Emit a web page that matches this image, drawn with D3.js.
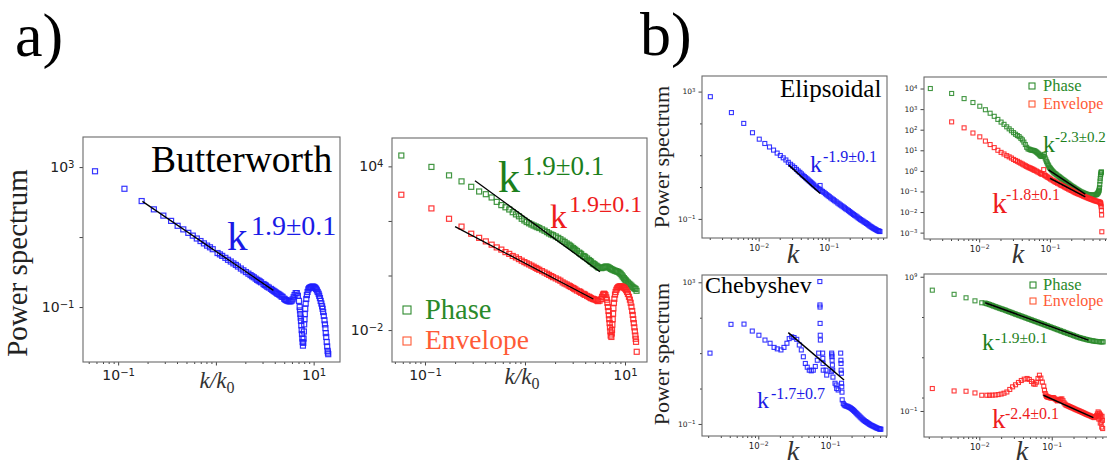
<!DOCTYPE html>
<html>
<head>
<meta charset="utf-8">
<script src="https://d3js.org/d3.v7.min.js"></script>
<style>
  body { margin: 0; background: #fff; }
  svg { display: block; }
  .serif { font-family: "Liberation Serif", "DejaVu Serif", serif; }
</style>
</head>
<body>
<div id="chart"></div>
<script>
// ---------- data: [k, power] ----------
// a) Butterworth, k/k0
const bwBlue = [[0.058,760],[0.116,240],[0.174,107],[0.232,62],[0.29,41],[0.348,29],[0.406,21],[0.464,16.6],[0.522,13.2],[0.58,11],[0.638,9.1],[0.696,7.7],[0.754,6.6],[0.812,5.7],[0.87,5.1],[0.928,4.5],[1.04,3.5],[1.1,3.2],[1.16,2.9],[1.25,2.55],[1.33,2.24],[1.42,2.0],[1.51,1.77],[1.6,1.6],[1.68,1.44],[1.8,1.26],[1.91,1.12],[2.03,1.0],[2.15,0.9],[2.26,0.82],[2.35,0.76],[2.44,0.71],[2.55,0.65],[2.64,0.6],[2.73,0.57],[2.81,0.54],[2.9,0.51],[3.07,0.456],[3.16,0.43],[3.25,0.41],[3.36,0.38],[3.48,0.36],[3.65,0.33],[3.77,0.31],[3.89,0.29],[4.0,0.275],[4.12,0.26],[4.23,0.245],[4.35,0.237],[4.46,0.225],[4.58,0.214],[4.7,0.2],[4.81,0.195],[4.99,0.174],[5.1,0.165],[5.22,0.158],[5.37,0.152],[5.51,0.148],[5.65,0.146],[5.8,0.145],[5.95,0.152],[6.09,0.166],[6.24,0.19],[6.38,0.22],[6.55,0.25],[6.73,0.25],[6.9,0.21],[7.08,0.15],[7.19,0.1],[7.25,0.08],[7.31,0.063],[7.37,0.05],[7.42,0.04],[7.48,0.03],[7.54,0.022],[7.6,0.017],[7.66,0.0126],[7.72,0.01],[7.77,0.0079],[7.83,0.0095],[7.89,0.0126],[7.95,0.02],[8.0,0.032],[8.06,0.045],[8.12,0.063],[8.2,0.09],[8.29,0.126],[8.41,0.17],[8.53,0.22],[8.67,0.27],[8.82,0.32],[8.99,0.345],[9.16,0.36],[9.37,0.37],[9.57,0.38],[9.78,0.385],[9.98,0.38],[10.2,0.37],[10.4,0.35],[10.6,0.33],[10.8,0.3],[11.0,0.27],[11.25,0.24],[11.4,0.21],[11.6,0.18],[11.8,0.15],[12.0,0.126],[12.2,0.105],[12.35,0.089],[12.5,0.072],[12.7,0.056],[12.9,0.042],[13.05,0.032],[13.2,0.025],[13.3,0.018],[13.45,0.014],[13.6,0.01],[13.75,0.0075],[13.9,0.0056],[14.0,0.005],[14.1,0.0045]];
const bwFit = [[0.177,105],[3.87,0.30]];

// a) Phase / Envelope, k/k0
const a2Phase = [[0.058,25000],[0.116,9550],[0.174,4680],[0.232,2820],[0.29,1780],[0.348,1200],[0.406,955],[0.464,724],[0.522,500],[0.58,380],[0.638,316],[0.696,263],[0.754,209],[0.812,174],[0.87,148],[0.928,120],[0.986,104],[1.04,91],[1.1,82],[1.16,74],[1.22,68],[1.28,63],[1.33,59],[1.39,55],[1.48,49],[1.57,44],[1.66,39],[1.74,35],[1.83,32],[1.91,30],[2.03,27],[2.15,24],[2.26,21.4],[2.38,19],[2.49,17],[2.61,15],[2.73,13.5],[2.81,12.4],[2.9,11.5],[3.02,10.2],[3.1,9.4],[3.19,8.7],[3.31,7.9],[3.48,6.9],[3.57,6.4],[3.65,6.0],[3.83,5.2],[3.92,5.0],[4.0,4.7],[4.18,4.2],[4.35,3.7],[4.47,3.4],[4.58,3.2],[4.76,2.8],[4.87,2.65],[4.99,2.5],[5.16,2.3],[5.28,2.15],[5.39,2.0],[5.57,1.9],[5.8,1.86],[5.97,1.92],[6.15,2.0],[6.32,2.08],[6.5,2.14],[6.67,2.08],[6.84,2.0],[7.05,1.86],[7.25,1.74],[7.45,1.66],[7.66,1.58],[7.9,1.5],[8.12,1.45],[8.35,1.4],[8.58,1.35],[8.82,1.25],[9.05,1.15],[9.28,1.02],[9.51,0.91],[9.75,0.8],[9.98,0.72],[10.2,0.66],[10.4,0.6],[10.7,0.55],[11.0,0.5],[11.3,0.46],[11.6,0.42],[11.9,0.38],[12.2,0.355],[12.5,0.335],[12.76,0.32],[13.05,0.275]];
const a2Env = [[0.058,912],[0.116,288],[0.174,120],[0.232,62],[0.29,34],[0.348,24],[0.406,17.8],[0.464,13.5],[0.522,10.7],[0.58,8.9],[0.638,7.2],[0.696,6.2],[0.754,5.2],[0.812,4.6],[0.87,4.0],[0.928,3.5],[0.986,3.1],[1.04,2.8],[1.1,2.55],[1.16,2.3],[1.22,2.1],[1.28,1.9],[1.33,1.76],[1.39,1.62],[1.48,1.45],[1.57,1.29],[1.66,1.16],[1.74,1.05],[1.83,0.95],[1.91,0.87],[2.03,0.785],[2.15,0.71],[2.26,0.645],[2.38,0.56],[2.49,0.51],[2.61,0.47],[2.73,0.43],[2.81,0.405],[2.9,0.38],[3.02,0.35],[3.1,0.33],[3.19,0.31],[3.31,0.28],[3.48,0.263],[3.57,0.25],[3.65,0.232],[3.83,0.214],[3.92,0.205],[4.0,0.195],[4.18,0.178],[4.35,0.166],[4.47,0.157],[4.58,0.148],[4.76,0.14],[4.87,0.136],[4.99,0.132],[5.16,0.126],[5.28,0.12],[5.39,0.115],[5.57,0.12],[5.8,0.138],[5.9,0.165],[6.03,0.2],[6.15,0.215],[6.26,0.21],[6.38,0.19],[6.5,0.158],[6.58,0.13],[6.67,0.1],[6.75,0.07],[6.84,0.05],[6.9,0.035],[6.96,0.025],[7.02,0.018],[7.08,0.0126],[7.14,0.009],[7.19,0.0063],[7.31,0.0056],[7.37,0.0075],[7.42,0.01],[7.48,0.016],[7.54,0.025],[7.6,0.04],[7.66,0.063],[7.75,0.1],[7.83,0.14],[7.95,0.2],[8.06,0.25],[8.2,0.3],[8.35,0.34],[8.52,0.37],[8.7,0.39],[8.9,0.4],[9.11,0.4],[9.34,0.39],[9.57,0.38],[9.8,0.355],[10.0,0.33],[10.25,0.29],[10.5,0.25],[10.7,0.21],[10.96,0.166],[11.2,0.13],[11.4,0.1],[11.6,0.072],[11.8,0.05],[11.95,0.036],[12.1,0.025],[12.25,0.018],[12.4,0.0126],[12.55,0.009],[12.7,0.0063],[12.8,0.0048],[12.9,0.0037],[13.1,0.0016]];
const a2PhaseFit = [[0.316,2950],[5.62,1.38]];
const a2EnvFit = [[0.2,62],[4.82,0.138]];

// b) Elipsoidal
const b1Blue = [[0.00204,692],[0.00408,219],[0.00612,100],[0.00816,51],[0.0102,32],[0.01224,23.4],[0.01428,18.2],[0.01632,14.5],[0.01836,11.7],[0.0204,9.8],[0.02244,8.3],[0.02448,7.1],[0.02652,6.0],[0.02856,5.2],[0.0306,4.6],[0.03264,4.1],[0.0347,3.6],[0.0367,3.2],[0.0388,2.9],[0.0408,2.6],[0.0428,2.35],[0.0449,2.14],[0.0469,1.97],[0.049,1.82],[0.051,1.68],[0.053,1.55],[0.0551,1.45],[0.0571,1.35],[0.0592,1.26],[0.0612,1.17],[0.0643,1.07],[0.0673,0.98],[0.0704,0.91],[0.0734,0.85],[0.0755,1.12],[0.0775,0.79],[0.0816,0.73],[0.0857,0.68],[0.0898,0.62],[0.0938,0.575],[0.098,0.535],[0.102,0.5],[0.107,0.46],[0.112,0.427],[0.117,0.4],[0.122,0.372],[0.128,0.345],[0.135,0.316],[0.141,0.295],[0.147,0.275],[0.154,0.257],[0.161,0.24],[0.168,0.224],[0.175,0.209],[0.183,0.195],[0.192,0.182],[0.2,0.17],[0.208,0.158],[0.217,0.148],[0.226,0.138],[0.235,0.13],[0.245,0.123],[0.255,0.115],[0.265,0.107],[0.276,0.101],[0.286,0.095],[0.298,0.09],[0.31,0.085],[0.322,0.08],[0.335,0.076],[0.348,0.072],[0.361,0.068],[0.374,0.064],[0.388,0.06],[0.403,0.057],[0.418,0.054],[0.433,0.051],[0.449,0.049],[0.465,0.047],[0.481,0.045],[0.497,0.043],[0.514,0.042],[0.528,0.041],[0.541,0.04]];
const b1Fit = [[0.0269,4.9],[0.0759,0.63]];

// b) Phase / Envelope (top)
const b2Phase = [[0.00204,10000],[0.00408,5750],[0.00612,3240],[0.00816,2090],[0.0102,1380],[0.01224,933],[0.01428,631],[0.01632,447],[0.01836,316],[0.0204,234],[0.02244,182],[0.02448,138],[0.02652,110],[0.02856,89],[0.0306,72],[0.03264,60],[0.0347,52],[0.0367,46],[0.0388,38],[0.0408,32],[0.0428,25],[0.0449,19],[0.0469,14],[0.049,11.7],[0.051,11.2],[0.053,10.5],[0.0551,10.2],[0.0571,10],[0.0592,9.7],[0.0612,9.3],[0.0633,8.6],[0.0653,7.9],[0.0673,7.2],[0.0694,6.6],[0.0714,6.0],[0.0734,5.4],[0.0755,5.2],[0.0775,5.0],[0.0796,5.1],[0.0816,5.2],[0.0836,6.3],[0.0857,4.2],[0.0877,3.4],[0.0898,2.8],[0.0918,2.4],[0.0938,2.0],[0.0958,1.75],[0.0979,1.5],[0.1,1.38],[0.102,1.26],[0.105,1.12],[0.108,1.0],[0.111,0.9],[0.114,0.81],[0.118,0.74],[0.122,0.68],[0.126,0.62],[0.131,0.56],[0.135,0.52],[0.139,0.48],[0.143,0.44],[0.147,0.41],[0.152,0.38],[0.157,0.35],[0.162,0.325],[0.167,0.3],[0.173,0.275],[0.18,0.25],[0.186,0.23],[0.192,0.21],[0.198,0.195],[0.204,0.18],[0.211,0.168],[0.218,0.158],[0.225,0.146],[0.233,0.135],[0.241,0.126],[0.249,0.117],[0.257,0.11],[0.265,0.102],[0.275,0.096],[0.284,0.091],[0.293,0.087],[0.302,0.083],[0.312,0.079],[0.322,0.076],[0.332,0.073],[0.343,0.071],[0.355,0.069],[0.367,0.068],[0.38,0.067],[0.392,0.066],[0.405,0.066],[0.418,0.066],[0.432,0.067],[0.445,0.069],[0.455,0.072],[0.465,0.076],[0.473,0.082],[0.481,0.089],[0.488,0.1],[0.494,0.112],[0.498,0.13],[0.502,0.158],[0.506,0.22],[0.51,0.316],[0.514,0.42],[0.518,0.56],[0.522,0.68],[0.526,0.79],[0.53,0.85],[0.534,0.89]];
const b2Env = [[0.00408,240],[0.00612,123],[0.00816,69],[0.0102,45],[0.01224,28],[0.01428,19],[0.01632,13.5],[0.01836,10],[0.0204,7.9],[0.02244,6.6],[0.02448,5.5],[0.02652,4.8],[0.02856,4.2],[0.0306,3.6],[0.03264,3.2],[0.0347,2.9],[0.0367,2.6],[0.0388,2.35],[0.0408,2.14],[0.0428,1.95],[0.0449,1.78],[0.0469,1.64],[0.049,1.51],[0.051,1.42],[0.053,1.35],[0.0551,1.27],[0.0571,1.2],[0.0592,1.12],[0.0612,1.05],[0.0643,0.97],[0.0673,0.89],[0.0704,0.82],[0.0734,0.76],[0.0755,0.72],[0.0775,0.68],[0.0816,1.15],[0.0836,0.63],[0.0857,0.6],[0.0877,0.56],[0.0908,0.52],[0.0938,0.48],[0.098,0.44],[0.102,0.4],[0.107,0.36],[0.112,0.33],[0.117,0.3],[0.122,0.275],[0.128,0.25],[0.135,0.23],[0.141,0.21],[0.147,0.195],[0.154,0.18],[0.161,0.166],[0.168,0.153],[0.175,0.141],[0.183,0.13],[0.192,0.12],[0.2,0.112],[0.208,0.105],[0.217,0.097],[0.226,0.089],[0.235,0.084],[0.245,0.079],[0.255,0.075],[0.265,0.071],[0.276,0.067],[0.286,0.063],[0.298,0.059],[0.31,0.056],[0.322,0.053],[0.335,0.05],[0.348,0.047],[0.361,0.045],[0.374,0.043],[0.388,0.041],[0.403,0.039],[0.418,0.037],[0.433,0.0355],[0.449,0.034],[0.465,0.033],[0.481,0.032],[0.497,0.031],[0.51,0.0295],[0.518,0.028],[0.522,0.026],[0.526,0.022],[0.53,0.018],[0.534,0.012],[0.537,0.0072],[0.541,0.0011]];
const b2PhaseFit = [[0.0955,1.12],[0.316,0.074]];
const b2EnvFit = [[0.1,0.437],[0.316,0.055]];

// b) Chebyshev
const b3Blue = [[0.00212,10],[0.00416,65],[0.00632,66],[0.00824,42],[0.0102,32],[0.0124,23.4],[0.0146,19],[0.0166,14.5],[0.0184,13.2],[0.0207,12.3],[0.0228,14.5],[0.0251,19],[0.027,25.7],[0.0292,28.8],[0.0315,27.5],[0.0344,24.5],[0.0373,17],[0.0398,12.3],[0.0425,7.9],[0.0453,5.1],[0.0482,4.0],[0.0514,3.3],[0.0548,3.16],[0.0585,3.3],[0.0624,4.2],[0.0665,6.3],[0.0695,10],[0.0722,1050],[0.0724,229],[0.0726,200],[0.0728,69],[0.0731,32],[0.0734,23.4],[0.079,10],[0.0795,7.1],[0.08,5.1],[0.0805,3.3],[0.088,3.3],[0.09,2.4],[0.1045,3.0],[0.1055,10],[0.106,8.9],[0.1065,7.9],[0.107,6.3],[0.108,4.6],[0.109,3.3],[0.11,2.1],[0.1175,1.41],[0.122,1.26],[0.124,1.0],[0.13,0.91],[0.141,10],[0.142,6.3],[0.1425,5.1],[0.143,3.3],[0.144,2.7],[0.145,1.41],[0.146,1.12],[0.147,0.79],[0.148,0.48],[0.153,0.38],[0.157,0.35],[0.162,0.33],[0.168,0.32],[0.174,0.316],[0.18,0.305],[0.186,0.295],[0.193,0.283],[0.2,0.27],[0.207,0.255],[0.214,0.24],[0.221,0.225],[0.229,0.209],[0.237,0.195],[0.245,0.182],[0.254,0.17],[0.263,0.158],[0.272,0.148],[0.282,0.138],[0.292,0.13],[0.302,0.123],[0.313,0.117],[0.324,0.112],[0.335,0.107],[0.347,0.102],[0.359,0.097],[0.372,0.093],[0.385,0.09],[0.398,0.087],[0.412,0.084],[0.427,0.081],[0.442,0.078],[0.457,0.076],[0.473,0.074],[0.49,0.072],[0.502,0.0715],[0.513,0.071]];
const b3Fit = [[0.0262,38],[0.157,1.74]];

// b) Phase / Envelope (bottom)
const b4Phase = [[0.00224,1.0e8],[0.00448,4.9e7],[0.00655,2.7e7],[0.0087,1.6e7],[0.0108,1.15e7],[0.012,1.1e7],[0.0126,1.0e7],[0.0132,9.3e6],[0.0138,8.5e6],[0.0145,7.8e6],[0.0151,7.1e6],[0.0158,6.5e6],[0.0166,5.9e6],[0.0174,5.4e6],[0.0182,4.9e6],[0.0191,4.5e6],[0.02,4.1e6],[0.0209,3.8e6],[0.0219,3.5e6],[0.0229,3.2e6],[0.024,2.9e6],[0.0251,2.6e6],[0.0263,2.4e6],[0.0275,2.2e6],[0.0288,2.0e6],[0.0302,1.8e6],[0.0316,1.65e6],[0.0331,1.5e6],[0.0347,1.38e6],[0.0363,1.26e6],[0.038,1.15e6],[0.0398,1.05e6],[0.0417,9.6e5],[0.0437,8.7e5],[0.0457,7.9e5],[0.0479,7.2e5],[0.0501,6.6e5],[0.0525,6.0e5],[0.055,5.5e5],[0.0575,5.0e5],[0.0603,4.6e5],[0.0631,4.2e5],[0.0661,3.8e5],[0.0692,3.5e5],[0.0724,3.2e5],[0.0759,2.9e5],[0.0794,2.65e5],[0.0832,2.4e5],[0.0871,2.2e5],[0.0912,2.0e5],[0.0955,1.82e5],[0.1,1.66e5],[0.105,1.52e5],[0.11,1.38e5],[0.115,1.26e5],[0.12,1.15e5],[0.126,1.05e5],[0.132,9.5e4],[0.138,8.7e4],[0.145,7.9e4],[0.151,7.2e4],[0.158,6.6e4],[0.166,6.0e4],[0.174,5.5e4],[0.182,5.0e4],[0.191,4.6e4],[0.2,4.2e4],[0.209,3.8e4],[0.219,3.5e4],[0.229,3.2e4],[0.24,2.95e4],[0.251,2.75e4],[0.263,2.55e4],[0.275,2.4e4],[0.288,2.25e4],[0.302,2.1e4],[0.316,1.97e4],[0.331,1.86e4],[0.347,1.78e4],[0.363,1.7e4],[0.38,1.62e4],[0.398,1.55e4],[0.417,1.5e4],[0.437,1.48e4],[0.457,1.45e4],[0.479,1.41e4],[0.496,1.41e4],[0.513,1.41e4]];
const b4Env = [[0.00224,4.7],[0.00448,3.1],[0.00655,2.95],[0.0087,2.2],[0.0108,1.48],[0.0127,1.48],[0.0138,1.48],[0.0151,1.51],[0.0166,1.55],[0.0182,1.66],[0.02,1.82],[0.0219,2.1],[0.024,2.6],[0.0263,4.0],[0.0288,6.3],[0.0316,8.9],[0.0347,13.2],[0.038,18.6],[0.0417,23.4],[0.0457,26.3],[0.049,22.4],[0.0525,15.8],[0.0562,10.5],[0.0589,9.8],[0.0617,14.1],[0.0646,26.3],[0.0676,46],[0.0708,28],[0.0741,14.1],[0.0776,7.1],[0.0794,3.5],[0.0813,2.0],[0.0832,1.48],[0.0851,1.2],[0.0871,1.12],[0.0891,1.08],[0.0912,1.05],[0.0944,0.98],[0.0977,0.91],[0.101,0.95],[0.105,1.0],[0.108,0.88],[0.112,0.76],[0.116,0.66],[0.12,0.56],[0.124,0.62],[0.129,0.71],[0.133,0.76],[0.138,0.79],[0.143,0.58],[0.148,0.4],[0.153,0.32],[0.158,0.27],[0.164,0.25],[0.17,0.23],[0.176,0.21],[0.182,0.195],[0.188,0.18],[0.195,0.166],[0.202,0.152],[0.209,0.138],[0.216,0.127],[0.224,0.117],[0.232,0.108],[0.24,0.1],[0.248,0.092],[0.257,0.085],[0.266,0.078],[0.275,0.072],[0.285,0.066],[0.295,0.06],[0.305,0.055],[0.316,0.051],[0.327,0.047],[0.339,0.044],[0.351,0.04],[0.363,0.037],[0.376,0.034],[0.389,0.032],[0.403,0.038],[0.417,0.045],[0.427,0.06],[0.437,0.085],[0.442,0.04],[0.447,0.025],[0.452,0.07],[0.457,0.06],[0.462,0.03],[0.468,0.0126],[0.473,0.05],[0.479,0.035],[0.484,0.015],[0.49,0.0063],[0.495,0.04],[0.501,0.02],[0.505,0.0049]];
const b4PhaseFit = [[0.012,1.15e7],[0.321,1.9e4]];
const b4EnvFit = [[0.0766,1.48],[0.376,0.032]];

// ---------- tick values / labels ----------
const aXTicks = [0.1, 1, 10], aXLabels = [0.1, 10];
const bXTicks = [0.01, 0.1], bXLabels = [0.01, 0.1];
const a1YTicks = [1e3, 10, 0.1], a1YLabels = [1e3, 0.1];
const a2YTicks = [1e4, 100, 1, 0.01], a2YLabels = [1e4, 0.01];
const b1YTicks = [1e3, 0.1], b1YMinor = [100, 10, 1], b1YLabels = [1e3, 0.1];
const b2YTicks = [1e4, 1e3, 100, 10, 1, 0.1, 0.01, 1e-3], b2YLabels = b2YTicks;
const b4YTicks = [1e9, 0.1], b4YMinor = [1e6, 1e3, 1], b4YLabels = [1e9, 0.1];

const blue = "#1f1fff", green = "#2e8b2e", red = "#ff2424", orange = "#ff5a36";
const SERIF = "'Liberation Serif', 'DejaVu Serif', serif";

const svg = d3.select("#chart").append("svg")
    .attr("width", 1107).attr("height", 465);

// superscript tick labels, matplotlib style 10^{n}
function expLabel(d) {
    const e = Math.round(Math.log10(d));
    return e < 0 ? "\u2212" + (-e) : String(e);
}
function supTicks(sel, labels) {
    sel.selectAll(".tick text").each(function(d) {
        const t = d3.select(this);
        t.text("");
        if (!labels.some(v => Math.abs(v - d) < d * 1e-6)) return;
        t.append("tspan").text("10");
        t.append("tspan").attr("dy", "-0.45em").attr("font-size", "0.72em").text(expLabel(d));
    });
}
function styleAxis(sel, fs) {
    sel.select(".domain").remove();
    sel.selectAll("line").attr("stroke", "#444");
    sel.selectAll("text").attr("fill", "#222").attr("font-family", "'DejaVu Sans', sans-serif").attr("font-size", fs);
}

function panel(p, id) {
    const [x0, y0, x1, y1] = p.box;
    const x = d3.scaleLog().domain(p.xd).range([x0, x1]);
    const y = d3.scaleLog().domain(p.yd).range([y1, y0]);
    const g = svg.append("g");

    g.append("clipPath").attr("id", "clip" + id)
        .append("rect").attr("x", x0).attr("y", y0).attr("width", x1 - x0).attr("height", y1 - y0);

    // minor x ticks
    const xMinor = x.ticks().filter(t => Math.abs(Math.log10(t) - Math.round(Math.log10(t))) > 1e-6);
    g.append("g").attr("transform", `translate(0,${y1})`)
        .call(d3.axisBottom(x).tickValues(xMinor).tickSize(2).tickFormat(""))
        .call(s => styleAxis(s, p.xfs));
    const gx = g.append("g").attr("transform", `translate(0,${y1})`)
        .call(d3.axisBottom(x).tickValues(p.xTicks).tickSize(3.5).tickPadding(p.xpad).tickFormat(() => "x"))
        .call(s => styleAxis(s, p.xfs));
    supTicks(gx, p.xLabels);

    if (p.yMinor) {
        g.append("g").attr("transform", `translate(${x0},0)`)
            .call(d3.axisLeft(y).tickValues(p.yMinor).tickSize(2).tickFormat(""))
            .call(s => styleAxis(s, p.yfs));
    }
    const gy = g.append("g").attr("transform", `translate(${x0},0)`)
        .call(d3.axisLeft(y).tickValues(p.yTicks).tickSize(3.5).tickPadding(p.ypad).tickFormat(() => "x"))
        .call(s => styleAxis(s, p.yfs));
    supTicks(gy, p.yLabels);

    const plot = g.append("g").attr("clip-path", `url(#clip${id})`);
    p.series.forEach(s => {
        plot.append("g").selectAll("rect").data(s.data).join("rect")
            .attr("x", d => x(d[0]) - p.ms / 2)
            .attr("y", d => y(d[1]) - p.ms / 2)
            .attr("width", p.ms).attr("height", p.ms)
            .attr("fill", "none").attr("stroke", s.color)
            .attr("stroke-width", p.sw).attr("stroke-opacity", 0.9);
    });
    p.fits.forEach(f => {
        plot.append("path").datum(f)
            .attr("d", d3.line().x(d => x(d[0])).y(d => y(d[1])))
            .attr("stroke", "#000").attr("stroke-width", p.lw).attr("fill", "none");
    });

    g.append("rect").attr("x", x0).attr("y", y0).attr("width", x1 - x0).attr("height", y1 - y0)
        .attr("fill", "none").attr("stroke", "#6a6a6a").attr("stroke-width", 1.1);
}

const panels = [
    {box: [83, 137, 340, 362], xd: [0.0437, 18.6], yd: [0.00269, 7244],
     xTicks: aXTicks, xLabels: aXLabels, yTicks: a1YTicks, yLabels: a1YLabels,
     xfs: 14, yfs: 14, xpad: 5, ypad: 5, ms: 5, sw: 1.2, lw: 1.3,
     series: [{data: bwBlue, color: blue}], fits: [bwFit]},
    {box: [392, 138, 647, 362], xd: [0.0468, 16.6], yd: [0.000676, 109600],
     xTicks: aXTicks, xLabels: aXLabels, yTicks: a2YTicks, yLabels: a2YLabels,
     xfs: 14, yfs: 14, xpad: 5, ypad: 5, ms: 5, sw: 1.2, lw: 1.3,
     series: [{data: a2Phase, color: green}, {data: a2Env, color: red}], fits: [a2PhaseFit, a2EnvFit]},
    {box: [702, 76, 887, 238], xd: [0.00155, 0.682], yd: [0.0251, 3090],
     xTicks: bXTicks, xLabels: bXLabels, yTicks: b1YTicks, yMinor: b1YMinor, yLabels: b1YLabels,
     xfs: 8.5, yfs: 7.5, xpad: 3, ypad: 3, ms: 4, sw: 1.1, lw: 1.5,
     series: [{data: b1Blue, color: blue}], fits: [b1Fit]},
    {box: [924, 77, 1110, 239], xd: [0.00166, 0.706], yd: [0.00049, 36300],
     xTicks: bXTicks, xLabels: bXLabels, yTicks: b2YTicks, yLabels: b2YLabels,
     xfs: 8.5, yfs: 7.5, xpad: 3, ypad: 3, ms: 4, sw: 1.1, lw: 1.5,
     series: [{data: b2Phase, color: green}, {data: b2Env, color: red}], fits: [b2PhaseFit, b2EnvFit]},
    {box: [702, 275, 887, 436], xd: [0.00164, 0.624], yd: [0.0457, 1607],
     xTicks: bXTicks, xLabels: bXLabels, yTicks: b1YTicks, yMinor: b1YMinor, yLabels: b1YLabels,
     xfs: 8.5, yfs: 7.5, xpad: 3, ypad: 3, ms: 4, sw: 1.1, lw: 1.5,
     series: [{data: b3Blue, color: blue}], fits: [b3Fit]},
    {box: [924, 274, 1110, 437], xd: [0.00172, 0.638], yd: [0.00115, 1.6e9],
     xTicks: bXTicks, xLabels: bXLabels, yTicks: b4YTicks, yMinor: b4YMinor, yLabels: b4YLabels,
     xfs: 8.5, yfs: 7.5, xpad: 3, ypad: 3, ms: 4, sw: 1.1, lw: 1.5,
     series: [{data: b4Phase, color: green}, {data: b4Env, color: red}], fits: [b4PhaseFit, b4EnvFit]}
];
panels.forEach(panel);

// ---------- text ----------
function txt(x, y, s, size, color, opts = {}) {
    const t = svg.append("text").attr("class", "serif").attr("font-family", SERIF)
        .attr("x", x).attr("y", y)
        .attr("font-size", size).attr("fill", color || "#000").text(s);
    if (opts.anchor) t.attr("text-anchor", opts.anchor);
    if (opts.italic) t.attr("font-style", "italic");
    return t;
}
// power-law annotation: k with exponent
function law(x, y, size, sx, sy, ssize, exp, color) {
    const t = svg.append("text").attr("class", "serif").attr("font-family", SERIF).attr("fill", color);
    t.append("tspan").attr("x", x).attr("y", y).attr("font-size", size).text("k");
    t.append("tspan").attr("x", sx).attr("y", sy).attr("font-size", ssize).text(exp);
}
function ylab(x, y, size) {
    svg.append("text").attr("class", "serif").attr("font-family", SERIF)
        .attr("transform", `translate(${x},${y}) rotate(-90)`)
        .attr("text-anchor", "middle").attr("font-size", size).attr("fill", "#222").text("Power spectrum");
}
function kk0(cx, y) {
    const t = svg.append("text").attr("class", "serif").attr("font-family", SERIF)
        .attr("x", cx).attr("y", y).attr("text-anchor", "middle")
        .attr("font-size", 23).attr("fill", "#333");
    t.append("tspan").attr("font-style", "italic").text("k/k");
    t.append("tspan").attr("dy", 5).attr("font-size", 16).text("0");
}
function legend(x, y1, y2, ts1, ts2, sq, tx) {
    [[y1, green, "Phase", ts1], [y2, orange, "Envelope", ts2]].forEach(([yy, c, s, fs]) => {
        svg.append("rect").attr("x", x - sq / 2).attr("y", yy - sq / 2).attr("width", sq).attr("height", sq)
            .attr("fill", "none").attr("stroke", c).attr("stroke-width", 1.1);
        txt(tx, yy + fs * 0.3, s, fs, c === green ? "#2a8a2a" : orange);
    });
}

txt(15, 56, "a)", 62);
txt(640, 55, "b)", 62);

// a) panels
txt(151, 172, "Butterworth", 37.5);
law(227, 250, 41, 251, 235, 28, "1.9\u00b10.1", "#1a1ae6");
law(498, 192, 44, 522, 175, 27, "1.9\u00b10.1", "#1c7f1c");
law(550, 228, 34, 569, 212, 24, "1.9\u00b10.1", "#ee1c1c");
ylab(27, 263, 29);
kk0(217, 388);
kk0(522, 384);
legend(407, 310, 341, 28.5, 27.5, 8, 425);

// b) panels
txt(780, 97, "Elipsoidal", 25);
txt(705, 293, "Chebyshev", 24);
law(810, 172, 24, 823, 162, 16, "-1.9\u00b10.1", "#1a1ae6");
law(1043, 152, 24, 1055, 142, 15, "-2.3\u00b10.2", "#1c7f1c");
law(992, 213, 30, 1006, 200, 16, "-1.8\u00b10.1", "#ee1c1c");
law(757, 408, 24, 771, 399, 16, "-1.7\u00b10.7", "#1a1ae6");
law(982, 350, 24, 995, 343, 15.5, "-1.9\u00b10.1", "#1c7f1c");
law(992, 428, 27, 1005, 419, 16, "-2.4\u00b10.1", "#ee1c1c");
ylab(669, 157, 22);
ylab(669, 354, 22);
[[793, 263], [1018, 263], [793, 460], [1022, 460]].forEach(([cx, cy]) => txt(cx, cy, "k", 28, "#333", {anchor: "middle", italic: true}));
legend(1032, 86, 104, 16.5, 16, 6, 1043);
legend(1033, 285, 301, 16.5, 16, 6, 1043);
</script>
</body>
</html>
